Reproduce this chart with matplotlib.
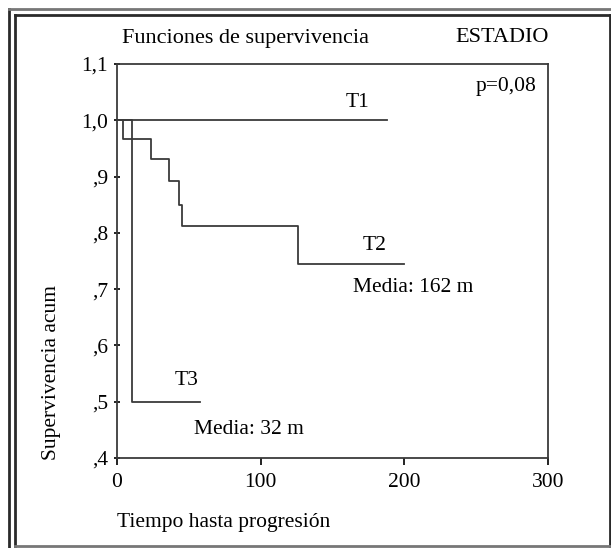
import matplotlib
matplotlib.use('Agg')
import matplotlib.pyplot as plt
from matplotlib.lines import Line2D

plt.rcParams['font.family'] = ['Liberation Serif', 'DejaVu Serif']

# ── Survival curves (time in months, cumulative survival) ──
t1_time = [0, 188]
t1_surv = [1.0, 1.0]

t2_time = [0, 4, 24, 36.5, 43, 45.5, 126, 200]
t2_surv = [1.0, 0.967, 0.932, 0.892, 0.850, 0.812, 0.744, 0.744]

t3_time = [0, 10.7, 58]
t3_surv = [1.0, 0.5, 0.5]

yticks = [0.4, 0.5, 0.6, 0.7, 0.8, 0.9, 1.0, 1.1]
ytick_labels = [',4', ',5', ',6', ',7', ',8', ',9', '1,0', '1,1']
xticks = [0, 100, 200, 300]

LINE = '#3a3a3a'
FS = 15.5
W, H = 611, 548

fig = plt.figure(figsize=(W/100, H/100), dpi=100)
ax = fig.add_axes([117/W, 1-458/H, (548-117)/W, (458-64)/H])

ax.step(t1_time, t1_surv, where='post', color=LINE, lw=1.3)
ax.step(t2_time, t2_surv, where='post', color=LINE, lw=1.3)
ax.step(t3_time, t3_surv, where='post', color=LINE, lw=1.3)

ax.set_xlim(0, 300)
ax.set_ylim(0.4, 1.1)
ax.set_xticks(xticks)
ax.set_xticklabels([str(v) for v in xticks], fontsize=FS)
ax.set_yticks(yticks)
ax.set_yticklabels(ytick_labels, fontsize=FS)
ax.tick_params(axis='y', direction='inout', length=5, width=1.3, color='#111111', pad=4)
ax.tick_params(axis='x', direction='out', length=5, width=1.3, color='#111111', pad=6)
for s in ax.spines.values():
    s.set_color(LINE)
    s.set_linewidth(1.3)

# curve labels
ax.text(167.7, 1.032, 'T1', fontsize=FS, ha='center', va='center')
ax.text(179, 0.777, 'T2', fontsize=FS, ha='center', va='center')
ax.text(206, 0.703, 'Media: 162 m', fontsize=FS, ha='center', va='center')
ax.text(48.7, 0.537, 'T3', fontsize=FS, ha='center', va='center')
ax.text(92, 0.451, 'Media: 32 m', fontsize=FS, ha='center', va='center')
ax.text(292, 1.060, 'p=0,08', fontsize=FS, ha='right', va='center')

# titles and axis labels as figure text
fig.text(245/W, 1-38/H, 'Funciones de supervivencia', fontsize=16, ha='center', va='center')
fig.text(549/W, 1-38/H, 'ESTADIO', fontsize=16, ha='right', va='center')
fig.text(117/W, 1-523/H, 'Tiempo hasta progresión', fontsize=FS, ha='left', va='center')
fig.text(52/W, 1-372/H, 'Supervivencia acum', fontsize=FS, rotation=90,
         ha='center', va='center')


def frame_line(xs, ys, color='#2a2a2a'):
    fig.add_artist(Line2D([x / W for x in xs], [1 - y / H for y in ys],
                          transform=fig.transFigure, color=color, lw=2.0,
                          solid_capstyle='projecting'))


# outer frame: only left and top visible
frame_line([8.5, 8.5], [H + 5, 8.5])
frame_line([8.5, W + 5], [8.5, 8.5], color='#777777')
# inner frame
frame_line([14.5, 14.5], [546, 14.5])
frame_line([14.5, 609.5], [14.5, 14.5])
frame_line([609.5, 609.5], [14.5, 546])
frame_line([14.5, 609.5], [546, 546], color='#777777')

fig.savefig('out.png', dpi=100)
